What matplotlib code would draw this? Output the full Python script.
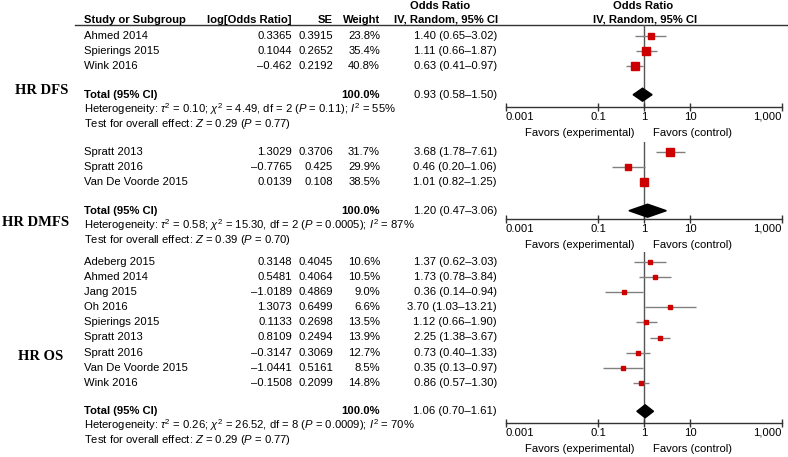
import numpy as np
import matplotlib
matplotlib.use("Agg")
import matplotlib.pyplot as plt

plt.rcParams['font.family'] = ['Liberation Sans', 'DejaVu Sans']
plt.rcParams['mathtext.fontset'] = 'custom'
plt.rcParams['mathtext.rm'] = 'Liberation Sans'
plt.rcParams['mathtext.it'] = 'Liberation Sans:italic'
plt.rcParams['mathtext.bf'] = 'Liberation Sans:bold'

# HR DFS
dfs_names = ["Ahmed 2014", "Spierings 2015", "Wink 2016"]
dfs_logor = [0.3365, 0.1044, -0.462]
dfs_se = [0.3915, 0.2652, 0.2192]
dfs_weight = [23.8, 35.4, 40.8]
dfs_or = [1.40, 1.11, 0.63]
dfs_lo = [0.65, 0.66, 0.41]
dfs_hi = [3.02, 1.87, 0.97]
dfs_total = [0.93, 0.58, 1.50]
dfs_het = r"Heterogeneity: $\tau^2$ = 0.10; $\chi^2$ = 4.49, df = 2 ($P$ = 0.11); $I^2$ = 55%"
dfs_test = r"Test for overall effect: $Z$ = 0.29 ($P$ = 0.77)"

# HR DMFS
dmfs_names = ["Spratt 2013", "Spratt 2016", "Van De Voorde 2015"]
dmfs_logor = [1.3029, -0.7765, 0.0139]
dmfs_se = [0.3706, 0.425, 0.108]
dmfs_weight = [31.7, 29.9, 38.5]
dmfs_or = [3.68, 0.46, 1.01]
dmfs_lo = [1.78, 0.20, 0.82]
dmfs_hi = [7.61, 1.06, 1.25]
dmfs_total = [1.20, 0.47, 3.06]
dmfs_het = r"Heterogeneity: $\tau^2$ = 0.58; $\chi^2$ = 15.30, df = 2 ($P$ = 0.0005); $I^2$ = 87%"
dmfs_test = r"Test for overall effect: $Z$ = 0.39 ($P$ = 0.70)"

# HR OS
os_names = ["Adeberg 2015", "Ahmed 2014", "Jang 2015", "Oh 2016", "Spierings 2015",
            "Spratt 2013", "Spratt 2016", "Van De Voorde 2015", "Wink 2016"]
os_logor = [0.3148, 0.5481, -1.0189, 1.3073, 0.1133, 0.8109, -0.3147, -1.0441, -0.1508]
os_se = [0.4045, 0.4064, 0.4869, 0.6499, 0.2698, 0.2494, 0.3069, 0.5161, 0.2099]
os_weight = [10.6, 10.5, 9.0, 6.6, 13.5, 13.9, 12.7, 8.5, 14.8]
os_or = [1.37, 1.73, 0.36, 3.70, 1.12, 2.25, 0.73, 0.35, 0.86]
os_lo = [0.62, 0.78, 0.14, 1.03, 0.66, 1.38, 0.40, 0.13, 0.57]
os_hi = [3.03, 3.84, 0.94, 13.21, 1.90, 3.67, 1.33, 0.97, 1.30]
os_total = [1.06, 0.70, 1.61]
os_het = r"Heterogeneity: $\tau^2$ = 0.26; $\chi^2$ = 26.52, df = 8 ($P$ = 0.0009); $I^2$ = 70%"
os_test = r"Test for overall effect: $Z$ = 0.29 ($P$ = 0.77)"

tick_vals = [0.001, 0.1, 1, 10, 1000]
tick_labels = ["0.001", "0.1", "1", "10", "1,000"]

W, H = 788, 457
fs = 8.1
fig = plt.figure(figsize=(W / 100, H / 100), dpi=100)
bg = fig.add_axes([0, 0, 1, 1])
bg.set_xlim(0, W)
bg.set_ylim(H, 0)
bg.axis('off')

# header
bg.plot([75, W], [24.5, 24.5], color='#333333', lw=1)
bg.text(84, 20, "Study or Subgroup", fontsize=fs, fontweight='bold', va='center')
bg.text(292, 20, "log[Odds Ratio]", fontsize=fs, fontweight='bold', va='center', ha='right')
bg.text(333, 20, "SE", fontsize=fs, fontweight='bold', va='center', ha='right')
bg.text(380, 20, "Weight", fontsize=fs, fontweight='bold', va='center', ha='right')
bg.text(440, 6, "Odds Ratio", fontsize=fs, fontweight='bold', va='center', ha='center')
bg.text(446, 19, "IV, Random, 95% CI", fontsize=fs, fontweight='bold', va='center', ha='center')
bg.text(643, 6, "Odds Ratio", fontsize=fs, fontweight='bold', va='center', ha='center')
bg.text(645, 19, "IV, Random, 95% CI", fontsize=fs, fontweight='bold', va='center', ha='center')


def num(v):
    return str(v).replace('-', '\u2013')


def panel(label, label_x, label_y, names, logor, se, weight, orv, lo, hi, total, het, test,
          first_row, plot_top, axis_y):
    step = 15.1
    rows = first_row + step * np.arange(len(names))
    total_y = rows[-1] + 28.5
    for i, y in enumerate(rows):
        bg.text(84, y, names[i], fontsize=fs, va='center')
        bg.text(292, y, num(logor[i]), fontsize=fs, va='center', ha='right')
        bg.text(333, y, num(se[i]), fontsize=fs, va='center', ha='right')
        bg.text(380, y, "%.1f%%" % weight[i], fontsize=fs, va='center', ha='right')
        bg.text(497, y, "%.2f (%.2f\u2013%.2f)" % (orv[i], lo[i], hi[i]),
                fontsize=fs, va='center', ha='right')
    bg.text(84, total_y, "Total (95% CI)", fontsize=fs, fontweight='bold', va='center')
    bg.text(380, total_y, "100.0%", fontsize=fs, fontweight='bold', va='center', ha='right')
    bg.text(497, total_y, "%.2f (%.2f\u2013%.2f)" % tuple(total),
            fontsize=fs, va='center', ha='right')
    bg.text(84, total_y + 14, het, fontsize=fs, va='center')
    bg.text(84, total_y + 29, test, fontsize=fs, va='center')
    bg.text(label_x, label_y, label, fontsize=10.5, fontweight='bold', va='center',
            family='Liberation Serif')

    ax = fig.add_axes([506 / W, 1 - axis_y / H, 276 / W, (axis_y - plot_top) / H])
    ax.patch.set_alpha(0)
    ax.set_xscale('log')
    ax.set_xlim(0.001, 1000)
    ax.set_ylim(axis_y, plot_top)
    for s in ['top', 'left', 'right']:
        ax.spines[s].set_visible(False)
    ax.spines['bottom'].set_linewidth(1)
    ax.spines['bottom'].set_color('#333333')
    ax.set_yticks([])
    ax.set_xticks(tick_vals)
    ax.set_xticklabels(tick_labels, fontsize=fs)
    labs = ax.get_xticklabels()
    labs[0].set_ha('left')
    labs[-1].set_ha('right')
    ax.minorticks_off()
    ax.tick_params(axis='x', direction='inout', length=6, width=1, color='#333333', pad=0.5)
    ax.axvline(1, color='#555555', lw=1, zorder=1)
    ax.hlines(rows, lo, hi, color='#808080', lw=1, zorder=2)
    for i, y in enumerate(rows):
        ax.plot(orv[i], y, 's', ms=1.25 * np.sqrt(weight[i]) * 0.72,
                color='#cc0000', mec='#cc0000', zorder=3)
    est, tlo, thi = total
    ax.fill([tlo, est, thi, est], [total_y, total_y - 6.5, total_y, total_y + 6.5],
            color='black', zorder=4, clip_on=False)
    ax.annotate("Favors (experimental)", xy=(1, axis_y), xycoords='data',
                xytext=(-6.5, -19), textcoords='offset points', ha='right', va='center',
                fontsize=fs)
    ax.annotate("Favors (control)", xy=(1, axis_y), xycoords='data',
                xytext=(6.5, -19), textcoords='offset points', ha='left', va='center',
                fontsize=fs)


panel("HR DFS", 15, 91, dfs_names, dfs_logor, dfs_se, dfs_weight, dfs_or, dfs_lo, dfs_hi,
      dfs_total, dfs_het, dfs_test, 36, 24.5, 107)
panel("HR DMFS", 2, 222, dmfs_names, dmfs_logor, dmfs_se, dmfs_weight, dmfs_or, dmfs_lo,
      dmfs_hi, dmfs_total, dmfs_het, dmfs_test, 152, 142, 219)
panel("HR OS", 18, 357, os_names, os_logor, os_se, os_weight, os_or, os_lo, os_hi,
      os_total, os_het, os_test, 262, 252, 423)

fig.savefig("out.png", dpi=100)
